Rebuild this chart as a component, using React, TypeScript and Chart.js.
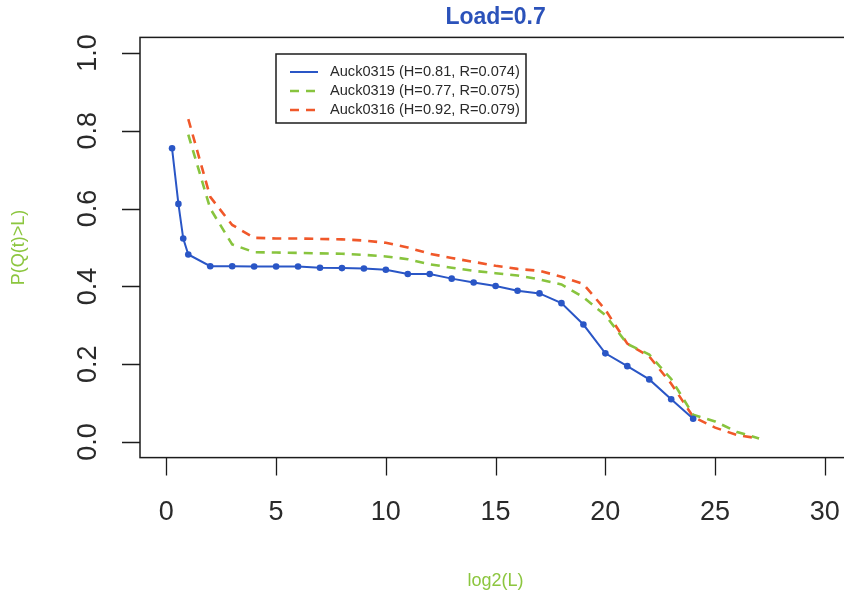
import React, { useEffect, useRef } from "react";
import { Chart, registerables } from "chart.js";

Chart.register(...registerables);

// ---- data ----
const blueX = [0.26, 0.55, 0.77, 1, 2, 3, 4, 5, 6, 7, 8, 9, 10, 11, 12, 13, 14, 15, 16, 17, 18, 19, 20, 21, 22, 23, 24];
const blueY = [0.755, 0.612, 0.523, 0.482, 0.452, 0.452, 0.451, 0.451, 0.451, 0.448, 0.447, 0.446, 0.443, 0.432, 0.432, 0.42, 0.41, 0.401, 0.389, 0.382, 0.357, 0.302, 0.228, 0.195, 0.161, 0.11, 0.06];

const greenX = [1, 2, 3, 4, 5, 6, 7, 8, 9, 10, 11, 12, 13, 14, 15, 16, 17, 18, 19, 20, 21, 22, 23, 24, 25, 26, 27];
const greenY = [0.79, 0.6, 0.508, 0.488, 0.487, 0.486, 0.485, 0.484, 0.481, 0.477, 0.47, 0.457, 0.448, 0.44, 0.434, 0.428, 0.418, 0.405, 0.372, 0.326, 0.252, 0.225, 0.162, 0.07, 0.053, 0.026, 0.009];

const redX = [1, 2, 3, 4, 5, 6, 7, 8, 9, 10, 11, 12, 13, 14, 15, 16, 17, 18, 19, 20, 21, 22, 23, 24, 25, 26, 27];
const redY = [0.83, 0.63, 0.558, 0.525, 0.523, 0.523, 0.522, 0.521, 0.518, 0.512, 0.5, 0.484, 0.473, 0.463, 0.453, 0.445, 0.44, 0.425, 0.406, 0.34, 0.253, 0.22, 0.15, 0.065, 0.037, 0.018, 0.009];

const seriesLabels = [
  "Auck0315 (H=0.81, R=0.074)",
  "Auck0319 (H=0.77, R=0.075)",
  "Auck0316 (H=0.92, R=0.079)",
];

const xTicks = [0, 5, 10, 15, 20, 25, 30];
const xTickLabels = ["0", "5", "10", "15", "20", "25", "30"];
const yTicks = [0, 0.2, 0.4, 0.6, 0.8, 1.0];
const yTickLabels = ["0.0", "0.2", "0.4", "0.6", "0.8", "1.0"];

const titleText = "Load=0.7";
const xTitleText = "log2(L)";
const yTitleText = "P(Q(t)>L)";

const FONT = "'Liberation Sans', Arial, Helvetica, sans-serif";
const BLUE = "#2a56c6";
const GREEN = "#88c43e";
const RED = "#f0582a";
const TITLE_BLUE = "#2b52ba";
const AXIS_GREEN = "#8cc63f";

const rPlotPlugin = {
  id: "rPlot",
  afterDraw(chart: any) {
    const { ctx, chartArea: a, scales } = chart;
    const xs = scales.x;
    const ys = scales.y;
    ctx.save();

    // box
    ctx.strokeStyle = "#1c1c1c";
    ctx.lineWidth = 1.5;
    ctx.setLineDash([]);
    ctx.strokeRect(a.left, a.top, a.right - a.left, a.bottom - a.top);

    // ticks
    ctx.lineWidth = 1.3;
    ctx.beginPath();
    xTicks.forEach((v) => {
      const px = Math.round(xs.getPixelForValue(v)) + 0.5;
      ctx.moveTo(px, a.bottom);
      ctx.lineTo(px, a.bottom + 18);
    });
    yTicks.forEach((v) => {
      const py = Math.round(ys.getPixelForValue(v)) + 0.5;
      ctx.moveTo(a.left, py);
      ctx.lineTo(a.left - 18, py);
    });
    ctx.stroke();

    // tick labels
    ctx.fillStyle = "#2a2a2a";
    ctx.font = `27px ${FONT}`;
    ctx.textAlign = "center";
    ctx.textBaseline = "middle";
    xTicks.forEach((v, i) => {
      ctx.fillText(xTickLabels[i], xs.getPixelForValue(v), a.bottom + 55);
    });
    yTicks.forEach((v, i) => {
      ctx.save();
      ctx.translate(a.left - 51, ys.getPixelForValue(v));
      ctx.rotate(-Math.PI / 2);
      ctx.fillText(yTickLabels[i], 0, 0);
      ctx.restore();
    });

    // title
    const cx = (a.left + a.right) / 2;
    ctx.fillStyle = TITLE_BLUE;
    ctx.font = `bold 23px ${FONT}`;
    ctx.fillText(titleText, cx, 18);

    // axis titles
    ctx.fillStyle = AXIS_GREEN;
    ctx.font = `18px ${FONT}`;
    ctx.fillText(xTitleText, cx, 581);
    ctx.save();
    ctx.translate(19, (a.top + a.bottom) / 2);
    ctx.rotate(-Math.PI / 2);
    ctx.fillText(yTitleText, 0, 0);
    ctx.restore();

    // legend
    const lx = 276, ly = 54, lw = 250, lh = 69;
    ctx.strokeStyle = "#1c1c1c";
    ctx.lineWidth = 1.5;
    ctx.strokeRect(lx, ly, lw, lh);
    ctx.font = `14.6px ${FONT}`;
    ctx.textAlign = "left";
    chart.data.datasets.forEach((ds: any, i: number) => {
      const rowY = ly + 18 + i * 19;
      ctx.strokeStyle = ds.borderColor;
      ctx.lineWidth = ds.borderWidth;
      ctx.setLineDash(ds.borderDash || []);
      ctx.beginPath();
      ctx.moveTo(290, rowY);
      ctx.lineTo(318, rowY);
      ctx.stroke();
      ctx.setLineDash([]);
      ctx.fillStyle = "#2a2a2a";
      ctx.fillText(ds.label, 330, rowY);
    });

    ctx.restore();
  },
};

export default function App() {
  const canvasRef = useRef<HTMLCanvasElement | null>(null);

  useEffect(() => {
    const canvas = canvasRef.current;
    if (!canvas) return;
    const chart = new Chart(canvas, {
      type: "line",
      data: {
        datasets: [
          {
            label: seriesLabels[0],
            data: blueX.map((x, i) => ({ x, y: blueY[i] })),
            borderColor: BLUE,
            backgroundColor: BLUE,
            borderWidth: 2,
            pointRadius: 3.3,
            pointBorderWidth: 0,
            pointBackgroundColor: BLUE,
            tension: 0,
            fill: false,
          },
          {
            label: seriesLabels[1],
            data: greenX.map((x, i) => ({ x, y: greenY[i] })),
            borderColor: GREEN,
            backgroundColor: GREEN,
            borderWidth: 2.6,
            borderDash: [9, 7],
            pointRadius: 0,
            tension: 0,
            fill: false,
          },
          {
            label: seriesLabels[2],
            data: redX.map((x, i) => ({ x, y: redY[i] })),
            borderColor: RED,
            backgroundColor: RED,
            borderWidth: 2.6,
            borderDash: [9, 7],
            pointRadius: 0,
            tension: 0,
            fill: false,
          },
        ],
      },
      options: {
        animation: false,
        responsive: false,
        devicePixelRatio: 1,
        parsing: true,
        layout: { padding: { left: 140, right: 8.8, top: 37.4, bottom: 140.4 } },
        scales: {
          x: { type: "linear", min: -1.2, max: 31.2, display: false },
          y: { type: "linear", min: -0.04, max: 1.04, display: false },
        },
        plugins: {
          legend: { display: false },
          title: { display: false },
          tooltip: { enabled: false },
        },
      },
      plugins: [rPlotPlugin],
    });
    return () => chart.destroy();
  }, []);

  return (
    <div
      style={{
        position: "fixed",
        left: 0,
        top: 0,
        width: 844,
        height: 598,
        overflow: "hidden",
        background: "#fff",
      }}
    >
      <canvas
        ref={canvasRef}
        width={860}
        height={598}
        style={{ display: "block", width: 860, height: 598 }}
      />
    </div>
  );
}
